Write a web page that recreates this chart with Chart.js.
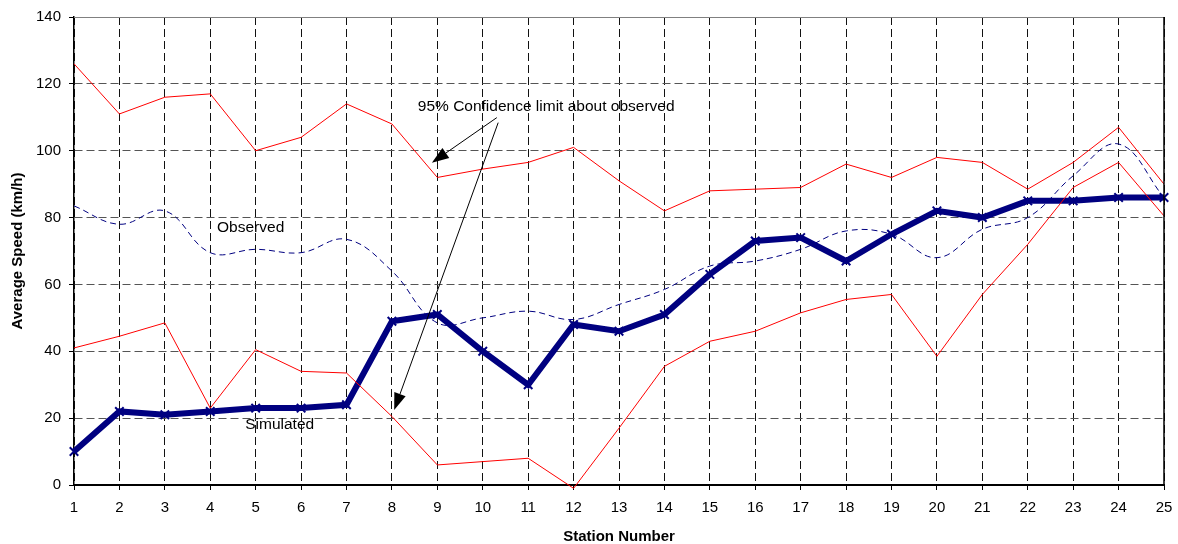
<!DOCTYPE html>
<html>
<head>
<meta charset="utf-8">
<script src="https://cdn.jsdelivr.net/npm/chart.js@4"></script>
<style>
  html, body { margin: 0; padding: 0; background: #fff; }
  #wrap { width: 1178px; height: 544px; }
</style>
</head>
<body>
<div id="wrap"><canvas id="speedChart"></canvas></div>
<script>
// Station labels along the x axis
const stations = ['1','2','3','4','5','6','7','8','9','10','11','12','13','14','15','16','17','18','19','20','21','22','23','24','25'];

// Average speed (km/h) per station
const upperLimit = [126, 111, 116, 117, 100, 104, 114, 108, 92, 94.5, 96.5, 101, 91, 82, 88, 88.5, 89, 96, 92, 98, 96.5, 88.5, 96.5, 107, 90];
const lowerLimit = [41, 44.5, 48.5, 23, 40.5, 34, 33.5, 20.5, 6, 7, 8, -1, 17, 35.5, 43, 46, 51.5, 55.5, 57, 38.5, 57, 72, 89, 96.5, 80.5];
const observed   = [83.5, 78, 82, 69.5, 70.5, 69.5, 73.5, 64, 48.5, 50, 52, 49.5, 54, 58.5, 65.5, 67, 70.5, 76, 75, 68, 76.5, 80, 92.5, 102, 86];
const simulated  = [10, 22, 21, 22, 23, 23, 24, 49, 51, 40, 30, 48, 46, 51, 63, 73, 74, 67, 75, 82, 80, 85, 85, 86, 86];

const yTicks = [0, 20, 40, 60, 80, 100, 120, 140];

const FONT = 'Liberation Sans, Arial, sans-serif';

// Text notes and arrows, placed in data units (station index, km/h)
const notes = [
    { text: 'Observed', x: 3.15, y: 77 },
    { text: 'Simulated', x: 3.77, y: 17.9 },
    { text: '95% Confidence limit about observed', x: 7.57, y: 113.1 }
];
const arrows = [
    { from: [9.31, 109.9], to: [7.88, 96.4] },
    { from: [9.34, 108.4], to: [7.05, 22.4] }
];

// Annotations, frame and arrows drawn over the chart
const extras = {
    id: 'extras',
    afterDraw(chart) {
        const ctx = chart.ctx;
        const xs = chart.scales.x, ys = chart.scales.y;
        const a = chart.chartArea;
        ctx.save();

        // plot frame: top grey, right black
        ctx.lineWidth = 1;
        ctx.strokeStyle = '#808080';
        ctx.beginPath();
        ctx.moveTo(a.left, a.top + 0.5);
        ctx.lineTo(a.right, a.top + 0.5);
        ctx.stroke();
        ctx.strokeStyle = '#000';
        ctx.lineWidth = 1.5;
        ctx.beginPath();
        ctx.moveTo(a.right, a.top);
        ctx.lineTo(a.right, a.bottom);
        ctx.stroke();

        // notes
        ctx.fillStyle = '#000';
        ctx.font = '15.5px ' + FONT;
        ctx.textAlign = 'left';
        ctx.textBaseline = 'middle';
        notes.forEach(n => {
            ctx.fillText(n.text, xs.getPixelForValue(n.x), ys.getPixelForValue(n.y));
        });

        // arrows
        arrows.forEach(ar => {
            const x1 = xs.getPixelForValue(ar.from[0]), y1 = ys.getPixelForValue(ar.from[1]);
            const x2 = xs.getPixelForValue(ar.to[0]), y2 = ys.getPixelForValue(ar.to[1]);
            const ang = Math.atan2(y2 - y1, x2 - x1);
            const len = 17, half = 6;
            const bx = x2 - len * Math.cos(ang), by = y2 - len * Math.sin(ang);
            ctx.strokeStyle = '#000';
            ctx.lineWidth = 1;
            ctx.beginPath();
            ctx.moveTo(x1, y1);
            ctx.lineTo(bx, by);
            ctx.stroke();
            ctx.beginPath();
            ctx.moveTo(x2, y2);
            ctx.lineTo(bx + half * Math.sin(ang), by - half * Math.cos(ang));
            ctx.lineTo(bx - half * Math.sin(ang), by + half * Math.cos(ang));
            ctx.closePath();
            ctx.fill();
        });
        ctx.restore();
    }
};

const redLine = {
    borderColor: '#ff0000',
    borderWidth: 1,
    pointRadius: 0,
    tension: 0,
    fill: false
};

new Chart(document.getElementById('speedChart'), {
    type: 'line',
    data: {
        labels: stations,
        datasets: [
            Object.assign({ label: 'Upper limit', data: upperLimit }, redLine),
            Object.assign({ label: 'Lower limit', data: lowerLimit, clip: 6 }, redLine),
            {
                label: 'Observed',
                data: observed,
                borderColor: '#000080',
                borderWidth: 1,
                borderDash: [6, 4],
                pointRadius: 0,
                tension: 0.4,
                fill: false
            },
            {
                label: 'Simulated',
                data: simulated,
                borderColor: '#000080',
                borderWidth: 6,
                pointStyle: 'crossRot',
                pointRadius: 6,
                pointBorderWidth: 2,
                pointBorderColor: '#000080',
                tension: 0,
                fill: false
            }
        ]
    },
    options: {
        responsive: true,
        maintainAspectRatio: false,
        animation: false,
        layout: { padding: { top: 16, right: 14, left: 0, bottom: 0 } },
        plugins: {
            legend: { display: false },
            tooltip: { enabled: false }
        },
        scales: {
            x: {
                type: 'category',
                offset: false,
                afterFit(scale) {
                    scale.height = 59;
                    scale.paddingLeft = 0;
                    scale.paddingRight = 0;
                },
                grid: {
                    color: '#111',
                    lineWidth: 1,
                    drawTicks: true,
                    tickLength: 5,
                    tickColor: '#000',
                    tickBorderDash: []
                },
                border: { display: true, color: '#000', width: 2, dash: [8, 4] },
                ticks: {
                    color: '#000',
                    padding: 9,
                    maxRotation: 0,
                    autoSkip: false,
                    font: { family: FONT, size: 15 }
                },
                title: {
                    display: true,
                    text: 'Station Number',
                    color: '#000',
                    padding: 0,
                    font: { family: FONT, size: 15, weight: 'bold', lineHeight: 1 }
                }
            },
            y: {
                min: 0,
                max: 140,
                afterFit(scale) { scale.width = 74; },
                afterBuildTicks(scale) { scale.ticks = yTicks.map(v => ({ value: v })); },
                grid: {
                    color: '#555',
                    lineWidth: 1,
                    drawTicks: true,
                    tickLength: 5,
                    tickColor: '#000',
                    tickBorderDash: []
                },
                border: { display: true, color: '#000', width: 1.5, dash: [8, 4] },
                ticks: {
                    color: '#000',
                    padding: 8,
                    font: { family: FONT, size: 15 }
                },
                title: {
                    display: true,
                    text: 'Average Speed (km/h)',
                    color: '#000',
                    padding: { top: 9, bottom: 0 },
                    font: { family: FONT, size: 15, weight: 'bold', lineHeight: 1.2 }
                }
            }
        }
    },
    plugins: [extras]
});
</script>
</body>
</html>
